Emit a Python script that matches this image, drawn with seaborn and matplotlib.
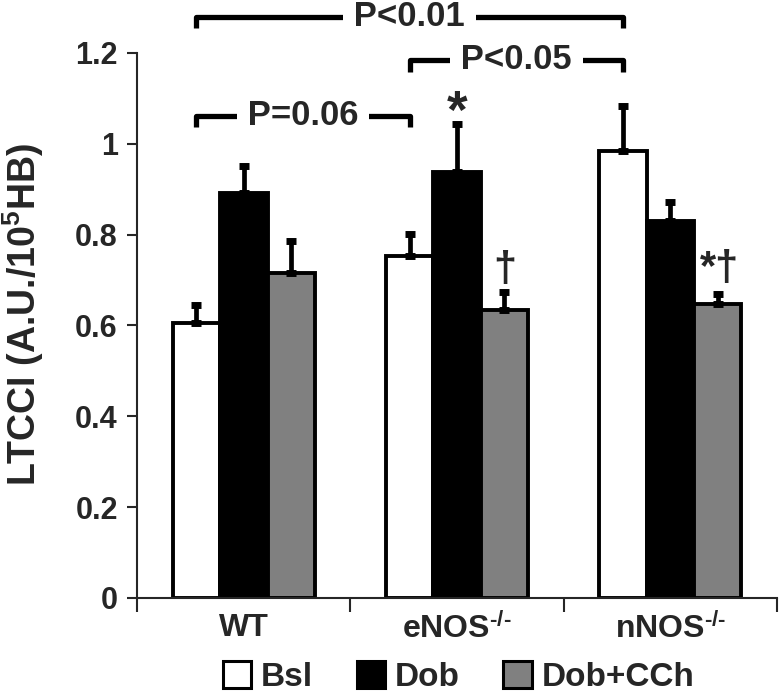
import numpy as np
import pandas as pd
import matplotlib.pyplot as plt
import seaborn as sns
from matplotlib.patches import Patch

# ------------------------
# data
# ------------------------
groups = ["WT", "eNOS", "nNOS"]
group_labels = ["WT", "eNOS$^{\u2010/\u2010}$", "nNOS$^{\u2010/\u2010}$"]
conditions = ["Bsl", "Dob", "Dob+CCh"]

bsl = [0.605, 0.752, 0.983]
dob = [0.892, 0.938, 0.830]
dob_cch = [0.715, 0.634, 0.648]

bsl_err = [0.040, 0.050, 0.100]
dob_err = [0.060, 0.105, 0.042]
dob_cch_err = [0.070, 0.040, 0.020]

colors = ["white", "black", "#808080"]

# significance brackets: (left group, right group, height, label) on Bsl bars
brackets = [
    (0, 2, 1.280, "P<0.01"),
    (1, 2, 1.185, "P<0.05"),
    (0, 1, 1.062, "P=0.06"),
]

# ------------------------
# style
# ------------------------
sns.set_style("ticks")
plt.rcParams["font.family"] = ["Liberation Sans", "DejaVu Sans"]
plt.rcParams["font.weight"] = "bold"
plt.rcParams["mathtext.fontset"] = "custom"
plt.rcParams["mathtext.rm"] = "Liberation Sans:bold"
plt.rcParams["mathtext.bf"] = "Liberation Sans:bold"
plt.rcParams["mathtext.default"] = "bf"

df = pd.DataFrame({
    "group": np.repeat(groups, 3),
    "condition": conditions * 3,
    "value": [v for trio in zip(bsl, dob, dob_cch) for v in trio],
})

fig = plt.figure(figsize=(7.84, 6.96), dpi=100)
ax = fig.add_axes([0.175, 0.141, 0.816, 0.783])

sns.barplot(
    data=df, x="group", y="value", hue="condition",
    order=groups, hue_order=conditions,
    palette=colors, edgecolor="black", linewidth=2.8,
    width=0.667, errorbar=None, legend=False, ax=ax,
)

# upward-only error bars
errs = [bsl_err, dob_err, dob_cch_err]
centers = []
tops = []
for cont, err in zip(ax.containers, errs):
    xs = [b.get_x() + b.get_width() / 2 for b in cont]
    ys = [b.get_height() for b in cont]
    centers.append(xs)
    tops.append([y + e for y, e in zip(ys, err)])
    ax.errorbar(xs, ys, yerr=[np.zeros(len(err)), err], fmt="none",
                ecolor="black", elinewidth=3.4, capsize=3.5, capthick=5,
                zorder=1)

# significance brackets
for g1, g2, h, lab in brackets:
    x1, x2 = centers[0][g1], centers[0][g2]
    ax.plot([x1, x1, x2, x2], [h - 0.026, h, h, h - 0.026], color="black",
            lw=3.8, solid_capstyle="butt", clip_on=False, zorder=3)
    ax.text((x1 + x2) / 2, h, " " + lab + " ", ha="center", va="center",
            fontsize=25, fontweight="bold", zorder=4,
            bbox=dict(facecolor="white", edgecolor="none", pad=1))

# stars and daggers
ax.text(centers[1][1], tops[1][1] - 0.008, "*", ha="center", va="baseline",
        fontsize=38, fontweight="bold")
ax.text(centers[2][1], tops[2][1] + 0.004, "\u2020", ha="center", va="bottom",
        fontsize=30, fontweight="bold")
ax.text(centers[2][2] + 0.01, tops[2][2] + 0.012, "*\u2020", ha="center",
        va="bottom", fontsize=30, fontweight="bold")

# axes
ax.set_ylim(0, 1.2)
ax.set_xlim(-0.5, 2.5)
ax.set_yticks(np.arange(0, 1.21, 0.2))
ax.set_yticklabels(["0", "0.2", "0.4", "0.6", "0.8", "1", "1.2"])
ax.set_xticks(range(3))
ax.set_xticklabels(group_labels)
ax.set_xticks([-0.5, 0.5, 1.5, 2.5], minor=True)
ax.tick_params(axis="x", which="major", length=0, labelsize=23, pad=11)
ax.tick_params(axis="x", which="minor", length=10, width=1.5, direction="out")
ax.tick_params(axis="y", length=7, width=1.5, labelsize=22, pad=7)
for t in ax.get_xticklabels() + ax.get_yticklabels():
    t.set_fontweight("bold")
ax.set_xlabel("")
ax.set_ylabel("LTCCI (A.U./10$^{5}$HB)", fontsize=27, fontweight="bold")
ax.yaxis.set_label_coords(-0.142, 0.52)
sns.despine(ax=ax)
for s in ["left", "bottom"]:
    ax.spines[s].set_linewidth(1.5)

# legend
handles = [Patch(facecolor=c, edgecolor="black", linewidth=2.2) for c in colors]
fig.legend(handles, conditions, loc="center", bbox_to_anchor=(0.585, 0.027),
           ncol=3, frameon=False, handlelength=0.85, handleheight=0.85,
           handletextpad=0.3, columnspacing=1.3,
           prop=dict(size=24, weight="bold"))

fig.savefig("out.png", dpi=100)
